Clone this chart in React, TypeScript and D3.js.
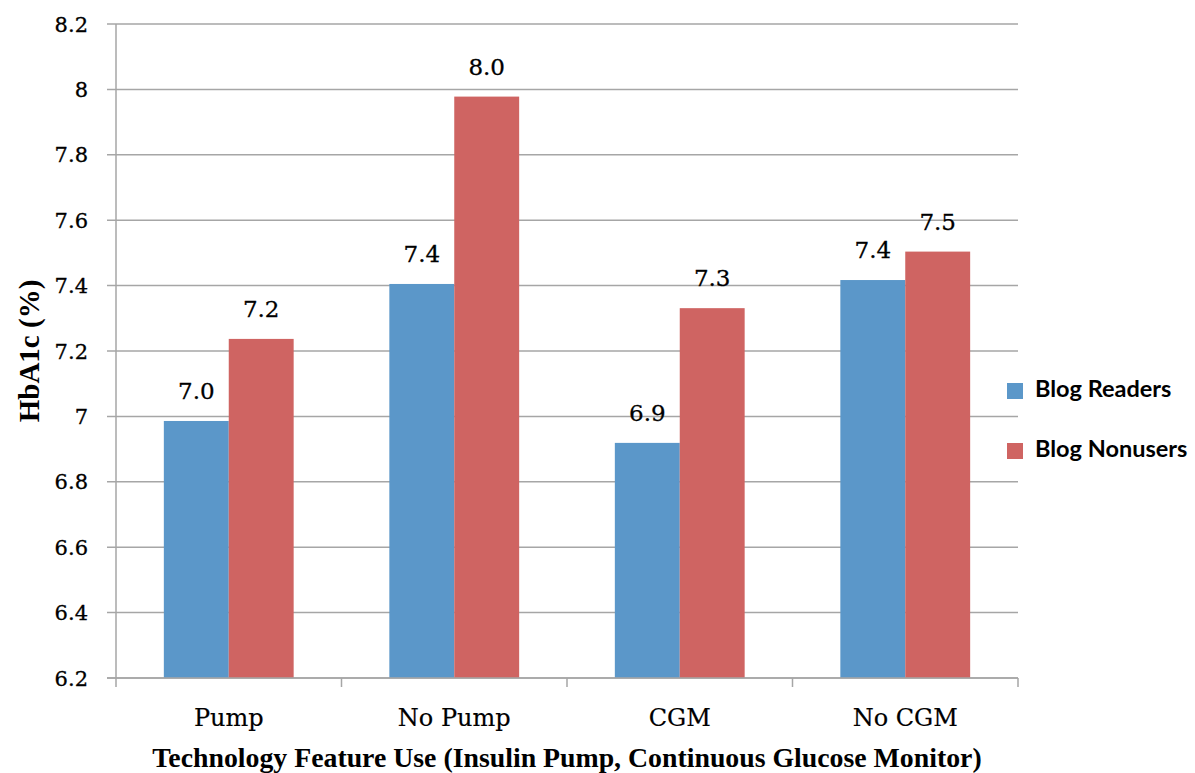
import { useMemo } from "react";
import * as d3 from "d3";

const categories = ["Pump", "No Pump", "CGM", "No CGM"];
const seriesNames = ["Blog Readers", "Blog Nonusers"];
const readers = [6.986, 7.405, 6.919, 7.417];
const nonusers = [7.237, 7.978, 7.331, 7.504];
const readerLabels = ["7.0", "7.4", "6.9", "7.4"];
const nonuserLabels = ["7.2", "8.0", "7.3", "7.5"];
const yTicks = [6.2, 6.4, 6.6, 6.8, 7, 7.2, 7.4, 7.6, 7.8, 8, 8.2];
const colors = ["#5b97c9", "#cf6462"];

const width = 1195;
const height = 773;
const margin = { left: 116, right: 1018, top: 24, bottom: 678 };
const gridColor = "#a6a6a6";
const serif = "'DejaVu Serif', serif";
const boldSerif = "'Liberation Serif', serif";

const App = () => {
  const { x0, x1, y } = useMemo(() => {
    const x0 = d3
      .scaleBand()
      .domain(categories)
      .range([margin.left, margin.right])
      .paddingInner(0)
      .paddingOuter(0);
    const x1 = d3
      .scaleBand()
      .domain(seriesNames)
      .range([0, x0.bandwidth()])
      .paddingInner(0)
      .paddingOuter(0.737);
    const y = d3.scaleLinear().domain([6.2, 8.2]).range([margin.bottom, margin.top]);
    return { x0, x1, y };
  }, []);

  const rows = categories.map((c, i) => ({
    category: c,
    values: [
      { name: seriesNames[0], value: readers[i], label: readerLabels[i] },
      { name: seriesNames[1], value: nonusers[i], label: nonuserLabels[i] },
    ],
  }));

  const boundaries = [...categories.map((c) => x0(c) as number), margin.right];

  return (
    <svg
      width={width}
      height={height}
      style={{ position: "absolute", left: 0, top: 0, background: "#fff" }}
    >
      {/* grid + y ticks */}
      {yTicks.map((t) => (
        <g key={t}>
          <line
            x1={107}
            x2={margin.right}
            y1={y(t)}
            y2={y(t)}
            stroke={gridColor}
            strokeWidth={1.5}
          />
          <text
            x={88}
            y={y(t)}
            dy="0.36em"
            textAnchor="end"
            fontFamily={serif}
            fontSize={21}
            fill="#000"
            stroke="#000"
            strokeWidth={0.3}
          >
            {d3.format("~g")(t)}
          </text>
        </g>
      ))}
      <line
        x1={margin.left}
        x2={margin.left}
        y1={margin.top}
        y2={margin.bottom}
        stroke={gridColor}
        strokeWidth={1.5}
      />

      {/* bars */}
      {rows.map((r) => (
        <g key={r.category} transform={`translate(${x0(r.category)},0)`}>
          {r.values.map((v, j) => (
            <g key={v.name}>
              <rect
                x={x1(v.name)}
                y={y(v.value)}
                width={x1.bandwidth()}
                height={y(6.2) - y(v.value)}
                fill={colors[j]}
              />
              <text
                x={(x1(v.name) as number) + x1.bandwidth() / 2}
                y={y(v.value) - 22}
                textAnchor="middle"
                fontFamily={serif}
                fontSize={23}
                fill="#000"
                stroke="#000"
                strokeWidth={0.3}
              >
                {v.label}
              </text>
            </g>
          ))}
        </g>
      ))}

      {/* x axis */}
      <line
        x1={107}
        x2={margin.right}
        y1={margin.bottom}
        y2={margin.bottom}
        stroke={gridColor}
        strokeWidth={1.5}
      />
      {boundaries.map((b, i) => (
        <line
          key={i}
          x1={b}
          x2={b}
          y1={margin.bottom}
          y2={margin.bottom + 9}
          stroke={gridColor}
          strokeWidth={1.5}
        />
      ))}
      {categories.map((c) => (
        <text
          key={c}
          x={(x0(c) as number) + x0.bandwidth() / 2}
          y={726}
          textAnchor="middle"
          fontFamily={serif}
          fontSize={24}
          fill="#000"
          stroke="#000"
          strokeWidth={0.2}
        >
          {c}
        </text>
      ))}

      {/* axis titles */}
      <text
        x={(margin.left + margin.right) / 2}
        y={767}
        textAnchor="middle"
        fontFamily={boldSerif}
        fontWeight="bold"
        fontSize={27.8}
        fill="#000"
      >
        Technology Feature Use (Insulin Pump, Continuous Glucose Monitor)
      </text>
      <text
        transform={`translate(39,${(margin.top + margin.bottom) / 2}) rotate(-90)`}
        textAnchor="middle"
        fontFamily={boldSerif}
        fontWeight="bold"
        fontSize={29}
        fill="#000"
      >
        HbA1c (%)
      </text>

      {/* legend */}
      {seriesNames.map((s, i) => (
        <g key={s} transform={`translate(1007,${383 + i * 60})`}>
          <rect width={16} height={16} fill={colors[i]} />
          <text
            x={28}
            y={14}
            fontFamily="Lato, sans-serif"
            fontWeight="bold"
            fontSize={23.5}
            fill="#000"
          >
            {s}
          </text>
        </g>
      ))}
    </svg>
  );
};

export default App;
